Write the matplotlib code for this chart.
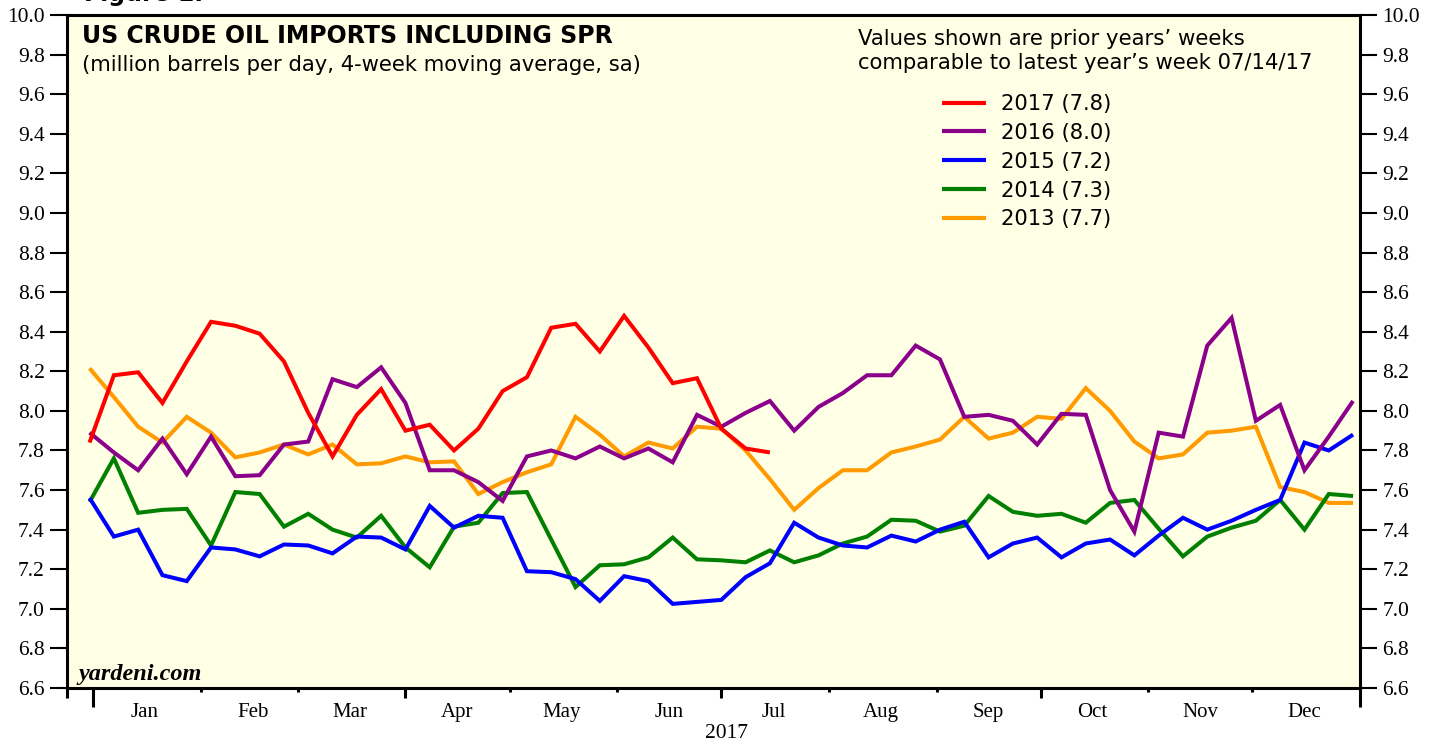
import matplotlib
matplotlib.use("Agg")
import matplotlib.pyplot as plt
import pandas as pd

# weekly points, 2016-12-31 .. 2017-12-30 (prior years aligned on the 2017 weeks)
weeks = pd.date_range("2016-12-31", periods=53, freq="7D")

y2017 = [7.84, 8.18, 8.195, 8.04, 8.25, 8.45, 8.43, 8.39, 8.25, 7.99,
         7.77, 7.98, 8.11, 7.90, 7.93, 7.80, 7.91, 8.10, 8.17, 8.42,
         8.44, 8.30, 8.48, 8.32, 8.14, 8.165, 7.91, 7.81, 7.79]

y2016 = [7.89, 7.79, 7.70, 7.86, 7.68, 7.87, 7.67, 7.675, 7.83, 7.845,
         8.16, 8.12, 8.22, 8.04, 7.70, 7.70, 7.64, 7.545, 7.77, 7.80,
         7.76, 7.82, 7.76, 7.81, 7.74, 7.98, 7.92, 7.99, 8.05, 7.90,
         8.02, 8.09, 8.18, 8.18, 8.33, 8.26, 7.97, 7.98, 7.95, 7.83,
         7.985, 7.98, 7.60, 7.39, 7.89, 7.87, 8.33, 8.47, 7.95, 8.03,
         7.70, 7.87, 8.05]

y2015 = [7.56, 7.365, 7.40, 7.17, 7.14, 7.31, 7.30, 7.265, 7.325, 7.32,
         7.28, 7.365, 7.36, 7.30, 7.52, 7.41, 7.47, 7.46, 7.19, 7.185,
         7.15, 7.04, 7.165, 7.14, 7.025, 7.035, 7.045, 7.16, 7.23, 7.435,
         7.36, 7.32, 7.31, 7.37, 7.34, 7.40, 7.44, 7.26, 7.33, 7.36,
         7.26, 7.33, 7.35, 7.27, 7.37, 7.46, 7.40, 7.445, 7.50, 7.55,
         7.84, 7.80, 7.88]

y2014 = [7.54, 7.76, 7.485, 7.50, 7.505, 7.32, 7.59, 7.58, 7.415, 7.48,
         7.40, 7.36, 7.47, 7.31, 7.21, 7.415, 7.435, 7.585, 7.59, 7.35,
         7.11, 7.22, 7.225, 7.26, 7.36, 7.25, 7.245, 7.235, 7.295, 7.235,
         7.27, 7.33, 7.365, 7.45, 7.445, 7.39, 7.42, 7.57, 7.49, 7.47,
         7.48, 7.435, 7.535, 7.55, 7.405, 7.265, 7.365, 7.41, 7.445, 7.55,
         7.40, 7.58, 7.57]

y2013 = [8.215, 8.07, 7.92, 7.84, 7.97, 7.89, 7.765, 7.79, 7.83, 7.78,
         7.83, 7.73, 7.735, 7.77, 7.74, 7.745, 7.58, 7.64, 7.69, 7.73,
         7.97, 7.88, 7.77, 7.84, 7.81, 7.92, 7.91, 7.80, 7.655, 7.50,
         7.61, 7.70, 7.70, 7.79, 7.82, 7.855, 7.97, 7.86, 7.89, 7.97,
         7.96, 8.115, 8.00, 7.845, 7.76, 7.78, 7.89, 7.90, 7.92, 7.615,
         7.59, 7.535, 7.535]

labels = ["2017 (7.8)", "2016 (8.0)", "2015 (7.2)", "2014 (7.3)", "2013 (7.7)"]
colors = ["#ff0000", "#8b008b", "#0000ff", "#007f00", "#ff9a00"]

W, H = 1437, 742
fig = plt.figure(figsize=(W / 100, H / 100), dpi=100)
fig.patch.set_facecolor("white")
ax = fig.add_axes([67 / W, 54 / H, 1293 / W, 673 / H])
ax.set_facecolor("#ffffe5")

series = [y2017, y2016, y2015, y2014, y2013]
# oldest first so 2017 ends up on top
for vals, c, lab in list(zip(series, colors, labels))[::-1]:
    ax.plot(weeks[:len(vals)], vals, color=c, lw=2.9, label=lab,
            solid_joinstyle="miter", solid_capstyle="butt")

xstart = pd.Timestamp("2016-12-24 12:00")
ax.set_ylim(6.6, 10.0)
ax.set_xlim(xstart, pd.Timestamp("2018-01-01"))

for s in ax.spines.values():
    s.set_linewidth(2.2)

serif = "Liberation Serif"
sans = "DejaVu Sans"

# y axis labelled on both sides
yt = [6.6 + 0.2 * i for i in range(18)]
ax.set_yticks(yt)
ax.set_yticklabels(["%.1f" % v for v in yt], fontfamily=serif, fontsize=15.5)
ax.tick_params(axis="y", which="major", direction="out", length=12, width=1.5,
               left=True, right=True, labelleft=True, labelright=True, pad=4)

# x axis: month boundaries as ticks, month names centred mid-month
month_starts = pd.date_range("2017-01-01", "2018-01-01", freq="MS")
mids = [d + pd.Timedelta(days=15) for d in month_starts[:-1]]
major = [xstart] + list(month_starts)
ax.set_xticks(major)
ax.set_xticklabels([])
ax.set_xticks(mids, minor=True)
ax.set_xticklabels([d.strftime("%b") for d in mids], minor=True,
                   fontfamily=serif, fontsize=15)
ax.tick_params(axis="x", which="minor", length=0, pad=11)
ax.tick_params(axis="x", which="major", direction="out", width=2.2, length=3)

fig.canvas.draw()
for t, d in zip(ax.xaxis.get_major_ticks(), major):
    if d.month == 1 and d.day == 1:
        t.tick1line.set_markersize(14)
    elif d.month in (4, 7, 10) or d.day != 1:
        t.tick1line.set_markersize(7)

ax.text((727 - 67) / 1293, -46 / 673, "2017", transform=ax.transAxes,
        ha="center", va="center", fontfamily=serif, fontsize=15.5)

# titles
fig.text(82 / W, 1 - 43 / H, "US CRUDE OIL IMPORTS INCLUDING SPR",
         fontfamily=sans, fontweight="bold", fontsize=17, va="baseline")
fig.text(82 / W, 1 - 71 / H, "(million barrels per day, 4-week moving average, sa)",
         fontfamily=sans, fontsize=15.2, va="baseline")
fig.text(858 / W, 1 - 45 / H, "Values shown are prior years\u2019 weeks",
         fontfamily=sans, fontsize=15.3, va="baseline")
fig.text(858 / W, 1 - 69 / H, "comparable to latest year\u2019s week 07/14/17",
         fontfamily=sans, fontsize=15.2, va="baseline")
fig.text(84 / W, 1 - 1.5 / H, "Figure 1.", fontfamily=sans, fontweight="bold",
         fontsize=17, va="baseline")

ax.text((78 - 67) / 1293, 8 / 673, "yardeni.com", transform=ax.transAxes,
        fontfamily=serif, fontstyle="italic", fontweight="bold", fontsize=17.5,
        va="baseline")

h, l = ax.get_legend_handles_labels()
leg = ax.legend(h[::-1], l[::-1], loc="upper left",
                bbox_to_anchor=(942 / W, 1 - 94 / H), bbox_transform=fig.transFigure,
                frameon=False, prop={"family": sans, "size": 15.2},
                handlelength=2.1, handletextpad=0.7, labelspacing=0.42,
                borderpad=0, borderaxespad=0)
for ln in leg.get_lines():
    ln.set_linewidth(3)

fig.savefig("out.png", dpi=100)
